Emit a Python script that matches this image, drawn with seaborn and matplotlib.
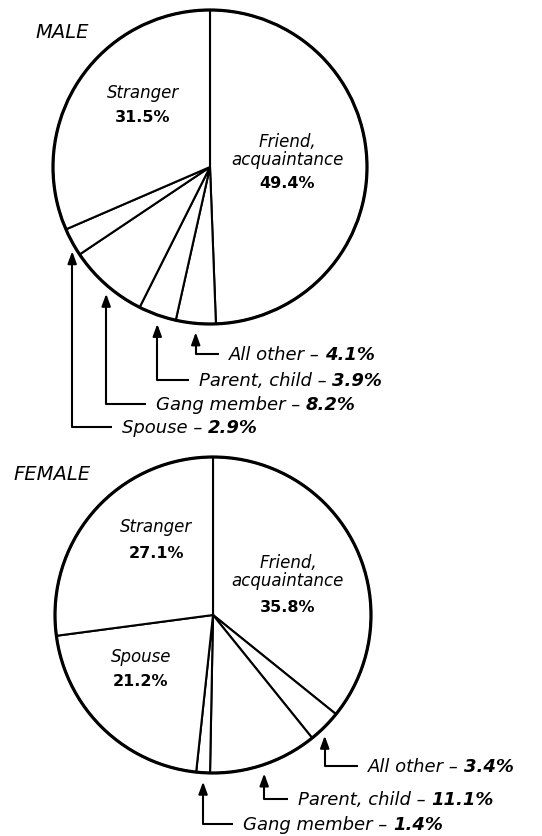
import numpy as np
import matplotlib.pyplot as plt
from matplotlib.patches import Circle
import seaborn as sns

sns.set_theme(style="white")
plt.rcParams['font.family'] = ['DejaVu Sans']

# ------------------------------------------------------------
# Data: victim-offender relationship, by sex of victim
# ------------------------------------------------------------
categories = ["Friend,\nacquaintance", "All other", "Parent, child",
              "Gang member", "Spouse", "Stranger"]
callout_names = ["Friend, acquaintance", "All other", "Parent, child",
                 "Gang member", "Spouse", "Stranger"]
male_pct = [49.4, 4.1, 3.9, 8.2, 2.9, 31.5]
female_pct = [35.8, 3.4, 11.1, 1.4, 21.2, 27.1]

# ------------------------------------------------------------
# Layout (pixel coordinates, y down)
# ------------------------------------------------------------
W, H = 542, 836
panels = [
    dict(title="MALE", title_xy=(35, 32), values=male_pct,
         center=(210, 167), radius=157,
         inside={0: (287, 151, 183), 5: (143, 93, 117)},
         callouts=[(1, 229, 355), (2, 199, 381), (3, 156, 405), (4, 122, 428)]),
    dict(title="FEMALE", title_xy=(13, 475), values=female_pct,
         center=(213, 615), radius=158,
         inside={0: (288, 572, 607), 5: (156, 527, 553), 4: (141, 657, 682)},
         callouts=[(1, 368, 767), (2, 298, 800), (3, 243, 825)]),
]

fig = plt.figure(figsize=(W / 100, H / 100), dpi=100)
ax = fig.add_axes([0, 0, 1, 1])

for p in panels:
    vals = p["values"]
    cx, cy = p["center"]
    r = p["radius"]
    # y axis is inverted below, so counterclock in data = clockwise on screen
    ax.pie(vals, startangle=270, counterclock=True, center=(cx, cy), radius=r,
           colors=["white"] * len(vals),
           wedgeprops=dict(edgecolor="black", linewidth=1.5))
    ax.add_patch(Circle((cx, cy), r, fill=False, edgecolor="black", linewidth=2.3, zorder=5))

    ax.text(*p["title_xy"], p["title"], fontsize=14, fontstyle="italic",
            ha="left", va="center", color="black")

    # labels inside the wedges
    for i, (tx, ny, vy) in p["inside"].items():
        ax.text(tx, ny, categories[i], fontsize=12, fontstyle="italic",
                ha="center", va="center", linespacing=1.0, color="black")
        ax.text(tx, vy, f"{vals[i]}%", fontsize=11.5, fontweight="bold",
                ha="center", va="center", color="black")

    # callouts for the small wedges
    cum = np.concatenate([[0], np.cumsum(vals)])
    for i, tx, ty in p["callouts"]:
        phi = np.deg2rad(360 * (cum[i] + vals[i] / 2) / 100)
        ax_x = cx + r * np.sin(phi)
        tip_y = cy - r * np.cos(phi) + 9
        ax.plot([ax_x, ax_x, tx - 10], [ty - 1, ty - 1, ty - 1], color="black", lw=1.5,
                solid_capstyle="butt")
        ax.plot([ax_x, ax_x], [ty - 1, tip_y + 8], color="black", lw=1.5)
        ax.annotate("", xy=(ax_x, tip_y), xytext=(ax_x, tip_y + 10),
                    arrowprops=dict(arrowstyle="-|>,head_length=0.6,head_width=0.22",
                                    color="black", lw=1.5, shrinkA=0, shrinkB=0))
        name = ax.text(tx, ty, callout_names[i] + " \u2013 ", fontsize=13,
                       fontstyle="italic", ha="left", va="center", color="black")
        ax.annotate(f"{vals[i]}%", xy=(1, 0.5), xycoords=name, fontsize=13,
                    fontweight="bold", fontstyle="italic", ha="left", va="center",
                    color="black")

ax.set_xlim(0, W)
ax.set_ylim(H, 0)
ax.set_aspect("equal")
ax.axis("off")

plt.savefig("out.png", dpi=100, facecolor="white")
